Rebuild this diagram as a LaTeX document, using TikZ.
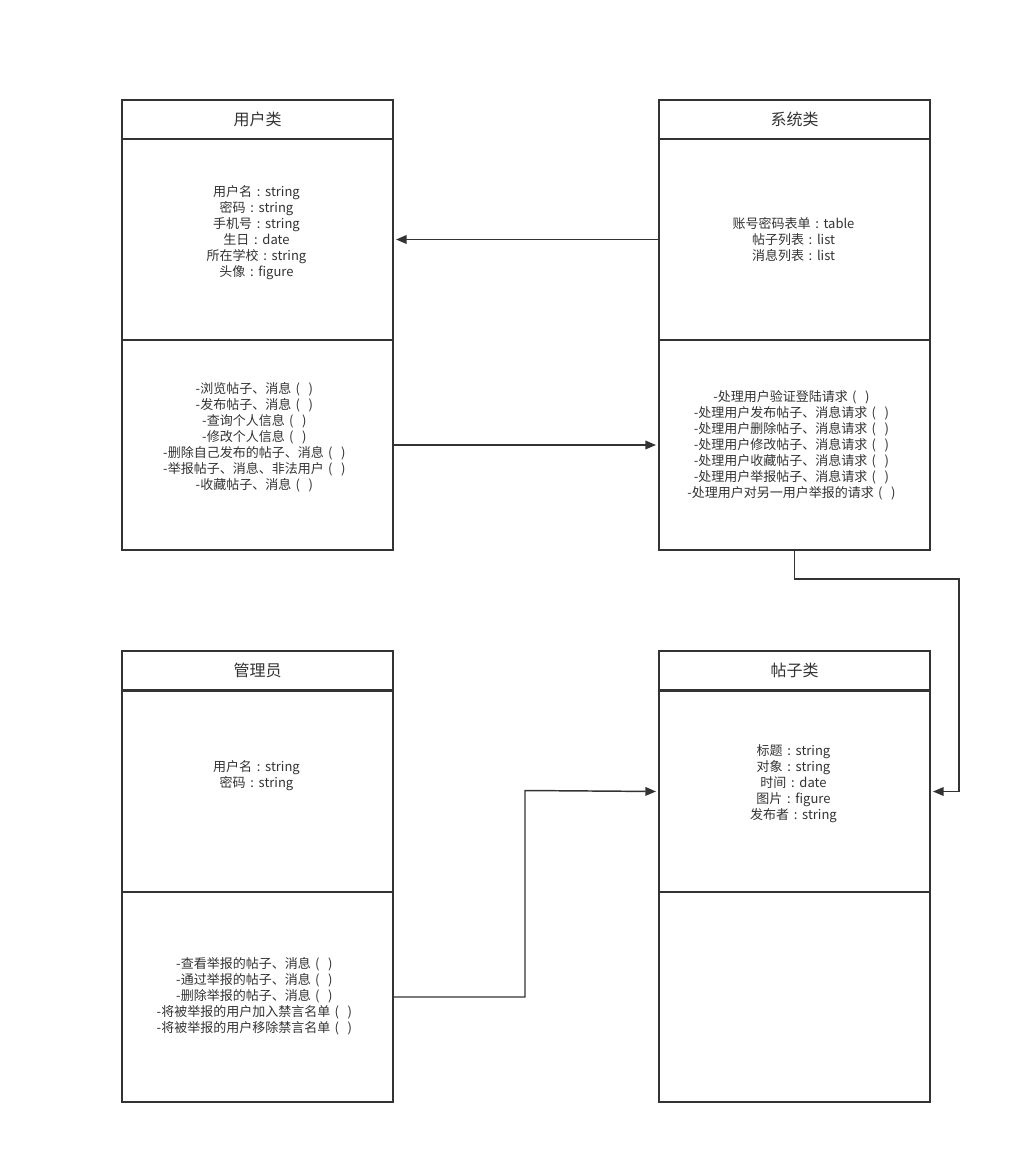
\documentclass[tikz,border=0pt]{standalone}
\usepackage{fontspec}
\setmainfont{Noto Sans CJK SC}
\usetikzlibrary{arrows.meta}
\definecolor{ln}{HTML}{333333}
\definecolor{tx}{HTML}{333333}
\newcommand{\cc}{\makebox[1em]{:}}
\newcommand{\pp}{\makebox[1em]{(}\makebox[1em]{)}}
\begin{document}
\begin{tikzpicture}[x=0.75pt,y=-0.75pt,
  sec/.style={draw=ln, line width=1.5pt, rectangle, inner sep=0pt,
    minimum width=203.25pt, anchor=north west},
  hdr/.style={sec, minimum height=29.25pt, text=tx, font=\fontsize{12}{14}\selectfont},
  att/.style={sec, minimum height=150.75pt},
  mth/.style={sec, minimum height=157.5pt},
  txt/.style={align=center, inner sep=0pt, text=tx, font=\fontsize{9.75}{12}\selectfont},
  conn/.style={draw=ln, line width=1.1pt, shorten >=1.5pt, -{Triangle[length=8pt,width=6.5pt]}}]
\fill[white] (0,0) rectangle (1021,1163);
\useasboundingbox (0,0) rectangle (1021,1163);

% User class
\node[hdr] (uh) at (121,99) {用户类};
\node[att] (ua) at (121,138) {};
\node[mth] (um) at (121,339) {};
\node[txt] (uat) at (256.5,233) {用户名\cc string\\密码\cc string\\手机号\cc string\\生日\cc date\\所在学校\cc string\\头像\cc figure};
\node[txt] (umt) at (256.5,437.5) {-浏览帖子、消息\pp\\-发布帖子、消息\pp\\-查询个人信息\pp\\-修改个人信息\pp\\-删除自己发布的帖子、消息\pp\\-举报帖子、消息、非法用户\pp\\-收藏帖子、消息\pp};

% System class
\node[hdr] (sh) at (658,99) {系统类};
\node[att] (sa) at (658,138) {};
\node[mth] (sm) at (658,339) {};
\node[txt] (sat) at (793.5,239.5) {账号密码表单\cc table\\帖子列表\cc list\\消息列表\cc list};
\node[txt] (smt) at (793.5,445.5) {-处理用户验证登陆请求\pp\\-处理用户发布帖子、消息请求\pp\\-处理用户删除帖子、消息请求\pp\\-处理用户修改帖子、消息请求\pp\\-处理用户收藏帖子、消息请求\pp\\-处理用户举报帖子、消息请求\pp\\-处理用户对另一用户举报的请求\pp};

% Admin
\node[hdr] (ah) at (121,650) {管理员};
\node[att] (aa) at (121,690) {};
\node[mth] (am) at (121,891) {};
\node[txt] (aat) at (256.5,775.5) {用户名\cc string\\密码\cc string};
\node[txt] (amt) at (256.5,996.5) {-查看举报的帖子、消息\pp\\-通过举报的帖子、消息\pp\\-删除举报的帖子、消息\pp\\-将被举报的用户加入禁言名单\pp\\-将被举报的用户移除禁言名单\pp};

% Post class
\node[hdr] (ph) at (658,650) {帖子类};
\node[att] (pa) at (658,690) {};
\node[mth] (pm) at (658,891) {};
\node[txt] (pat) at (793.5,783.5) {标题\cc string\\对象\cc string\\时间\cc date\\图片\cc figure\\发布者\cc string};

% connectors
\coordinate (c1) at (959,579);
\coordinate (c2) at (525,790.5);
\draw[conn] (sa.west) -- (ua.east);
\draw[conn] (um.east) -- (sm.west);
\draw[conn] (sm.south) |- (c1) |- (pa.east);
\draw[conn] (am.east) -| (c2) -- (pa.west);
\end{tikzpicture}
\end{document}
